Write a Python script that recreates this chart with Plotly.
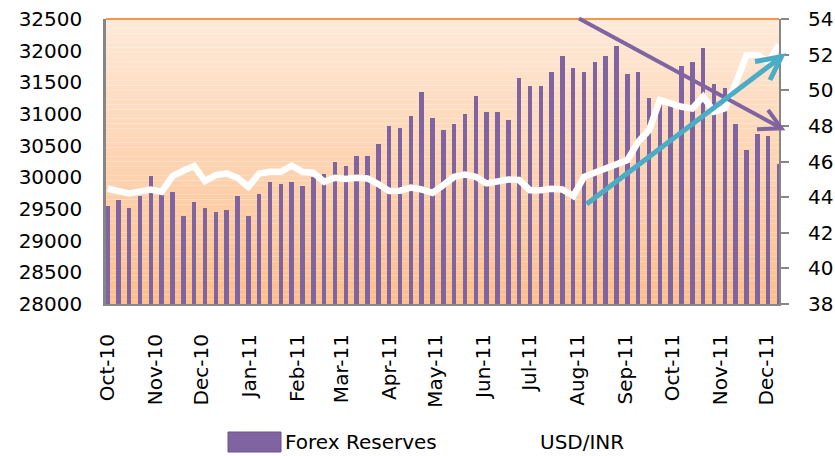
import pandas as pd
import plotly.graph_objects as go

# ---- data (weekly) ----
start_date = "2010-10-01"
n_weeks = 63
dates = pd.date_range(start_date, periods=n_weeks, freq="7D")

forex_reserves = [
    29548, 29642, 29516, 29710, 30021, 29763, 29768, 29389, 29610, 29516,
    29453, 29484, 29705, 29389, 29737, 29926, 29895, 29926, 29863, 30010,
    30053, 30242, 30179, 30337, 30337, 30526, 30810, 30779, 30968, 31347,
    30937, 30747, 30842, 31000, 31284, 31032, 31032, 30905, 31568, 31442,
    31442, 31663, 31916, 31726, 31663, 31821, 31916, 32074, 31632, 31663,
    31253, 31230, 31150, 31758, 31821, 32042, 31474, 31410, 30842, 30432,
    30684, 30652, 30210,
]

usd_inr = [
    44.47, 44.36, 44.21, 44.32, 44.43, 44.30, 45.18, 45.48, 45.74, 44.90,
    45.24, 45.33, 45.09, 44.58, 45.33, 45.42, 45.42, 45.76, 45.42, 45.37,
    44.86, 45.09, 45.02, 45.09, 45.05, 44.73, 44.34, 44.36, 44.54, 44.43,
    44.24, 44.67, 45.14, 45.27, 45.14, 44.77, 44.90, 44.99, 44.96, 44.39,
    44.39, 44.47, 44.43, 44.06, 45.14, 45.37, 45.61, 45.89, 46.08, 47.11,
    47.76, 49.45, 49.26, 49.07, 48.98, 49.64, 48.79, 48.98, 50.39, 51.98,
    51.98, 51.60, 52.54,
]

month_ticks = pd.date_range("2010-10-01", "2011-12-01", freq="MS")

left_ticks = [28000, 28500, 29000, 29500, 30000, 30500, 31000, 31500, 32000, 32500]
right_ticks = [38, 40, 42, 44, 46, 48, 50, 52, 54]

series_names = ["Forex Reserves", "USD/INR"]

# ---- styling ----
PURPLE = "#8064A2"
TEAL = "#4BACC6"
AXIS_GRAY = "#868686"
FONT = "DejaVu Sans"

W, H = 835, 456
# plot area in pixels: x 106..779, y 19..304
PX0, PX1, PY0, PY1 = 106, 779, 19, 304
PW, PH = PX1 - PX0, PY1 - PY0


def px(x):
    return (x - PX0) / PW


def py(y):
    return (PY1 - y) / PH


fig = go.Figure()

fig.add_trace(go.Bar(
    x=dates, y=forex_reserves, name=series_names[0],
    marker=dict(color=PURPLE, line=dict(width=0)),
    width=2.9 * 86400000, yaxis="y", showlegend=False,
))
fig.add_trace(go.Scatter(
    x=dates, y=usd_inr, name=series_names[1], mode="lines",
    line=dict(color="white", width=6.5), yaxis="y2", showlegend=False,
))

# gradient plot background (bands)
shapes = []
n_bands = 60
top = (254, 233, 216)
bot = (252, 191, 141)
for i in range(n_bands):
    t = i / (n_bands - 1)
    c = tuple(round(top[k] + (bot[k] - top[k]) * t) for k in range(3))
    shapes.append(dict(
        type="rect", xref="paper", yref="paper", layer="below",
        x0=0, x1=1, y1=1 - i / n_bands, y0=1 - (i + 1) / n_bands,
        fillcolor="rgb(%d,%d,%d)" % c, line=dict(width=0),
    ))

# top orange border
shapes.append(dict(type="line", xref="paper", yref="paper", x0=0, x1=1, y0=1, y1=1,
                   line=dict(color="#F79646", width=2), layer="above"))

# purple arrow (down)
shapes.append(dict(type="line", xref="paper", yref="paper",
                   x0=px(579), y0=py(18.5), x1=px(781.5), y1=py(128.3),
                   line=dict(color=PURPLE, width=4), layer="above"))
shapes.append(dict(type="path", xref="paper", yref="paper",
                   path="M %.4f,%.4f L %.4f,%.4f L %.4f,%.4f" % (
                       px(768), py(110), px(781.5), py(128.3), px(757), py(129.3)),
                   line=dict(color=PURPLE, width=4), layer="above"))
# teal arrow (up)
shapes.append(dict(type="line", xref="paper", yref="paper",
                   x0=px(586.7), y0=py(204), x1=px(781.5), y1=py(56.7),
                   line=dict(color=TEAL, width=5), layer="above"))
shapes.append(dict(type="path", xref="paper", yref="paper",
                   path="M %.4f,%.4f L %.4f,%.4f L %.4f,%.4f" % (
                       px(755), py(61.5), px(781.5), py(56.7), px(770), py(80)),
                   line=dict(color=TEAL, width=5), layer="above"))

# legend (drawn): purple key box for Forex Reserves; USD/INR key is a white line
shapes.append(dict(type="rect", xref="paper", yref="paper",
                   x0=px(228), x1=px(281), y0=py(452), y1=py(432),
                   fillcolor=PURPLE, line=dict(color="#6B5290", width=1), layer="above"))
shapes.append(dict(type="line", xref="paper", yref="paper",
                   x0=px(480), x1=px(532), y0=py(442), y1=py(442),
                   line=dict(color="white", width=6), layer="above"))

annotations = [
    dict(text=series_names[0], xref="paper", yref="paper",
         x=px(283), y=py(442), xanchor="left", yanchor="middle",
         showarrow=False, font=dict(size=20, family=FONT, color="black")),
    dict(text=series_names[1], xref="paper", yref="paper",
         x=px(538), y=py(442), xanchor="left", yanchor="middle",
         showarrow=False, font=dict(size=20, family=FONT, color="black")),
]

fig.update_layout(
    width=W, height=H,
    margin=dict(l=PX0, r=W - PX1, t=PY0, b=H - PY1),
    paper_bgcolor="white", plot_bgcolor="rgba(0,0,0,0)",
    font=dict(family=FONT, size=20, color="black"),
    shapes=shapes, annotations=annotations,
    bargap=0,
    xaxis=dict(
        type="date", range=["2010-09-30", "2011-12-09"],
        tickvals=month_ticks, tickformat="%b-%y", tickangle=-90,
        showgrid=False, zeroline=False, showline=True, linecolor=AXIS_GRAY, linewidth=2,
        ticks="", ticklabelstandoff=20, tickfont=dict(size=20, family=FONT),
        automargin=False,
    ),
    yaxis=dict(
        range=[28000, 32500], tickvals=left_ticks, ticktext=[str(v) for v in left_ticks],
        showgrid=False, zeroline=False,
        showline=True, linecolor=AXIS_GRAY, linewidth=2.5, ticks="",
        ticklabelstandoff=17, tickfont=dict(size=20, family=FONT), automargin=False,
    ),
    yaxis2=dict(
        range=[38, 54], tickvals=right_ticks, overlaying="y", side="right",
        showgrid=False, zeroline=False, showline=True, linecolor=AXIS_GRAY, linewidth=2,
        ticks="outside", ticklen=8, tickcolor=AXIS_GRAY, tickwidth=2,
        ticklabelstandoff=15, tickfont=dict(size=20, family=FONT), automargin=False,
    ),
    showlegend=False,
)

fig.write_html("out.html", config={"displayModeBar": False},
               post_script="document.body.style.margin='0';")
